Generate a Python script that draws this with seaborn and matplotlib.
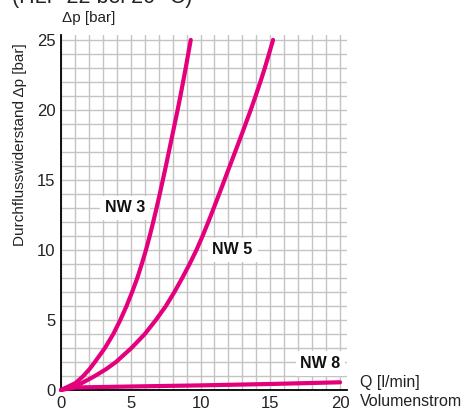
import matplotlib
matplotlib.use("Agg")
import matplotlib.pyplot as plt
import seaborn as sns
import pandas as pd

# --- data ---
nw3_dp = [0, 0.5, 1, 1.5, 2, 3, 4, 5, 6, 7, 8, 9, 10, 11, 12, 13, 14, 15, 16, 17, 18, 19, 20, 21, 22, 23, 24, 25]
nw3_q = [0, 1.05, 1.6, 2.05, 2.43, 3.15, 3.75, 4.25, 4.7, 5.1, 5.47, 5.79, 6.09, 6.36, 6.61, 6.85,
         7.08, 7.3, 7.52, 7.73, 7.94, 8.15, 8.36, 8.56, 8.75, 8.94, 9.12, 9.3]
nw5_dp = [0, 0.5, 1, 1.5, 2, 3, 4, 5, 6, 7, 8, 9, 10, 11, 12, 13, 14, 15, 16, 17, 18, 19, 20, 21, 22, 23, 24, 25]
nw5_q = [0, 1.5, 2.43, 3.25, 3.94, 5.05, 6.01, 6.8, 7.52, 8.13, 8.69, 9.22, 9.71, 10.15, 10.56, 10.95,
         11.34, 11.72, 12.1, 12.48, 12.86, 13.23, 13.6, 13.95, 14.29, 14.61, 14.91, 15.2]
nw8_q = [0, 1, 5, 10, 15, 20]
nw8_dp = [0, 0.18, 0.25, 0.33, 0.43, 0.55]
x_ticks = [0, 5, 10, 15, 20]
y_ticks = [0, 5, 10, 15, 20, 25]
labels = ["NW 3", "NW 5", "NW 8"]
label_pos = [(4.6, 13.0), (12.3, 10.0), (18.6, 1.9)]

sns.set_theme(style="white")
plt.rcParams['font.family'] = ['Liberation Sans', 'DejaVu Sans']

W, H = 468, 408
fig = plt.figure(figsize=(W / 100, H / 100), dpi=100)
ax = fig.add_axes([61 / W, 18 / H, 286 / W, 355 / H])

color = "#E4007C"
series = [(nw3_q, nw3_dp), (nw5_q, nw5_dp), (nw8_q, nw8_dp)]
for (q, dp) in series:
    df = pd.DataFrame({"Q": q, "dp": dp})
    sns.lineplot(data=df, x="Q", y="dp", ax=ax, color=color, linewidth=3.0,
                 sort=False, estimator=None, solid_capstyle="round",
                 solid_joinstyle="round", clip_on=False, zorder=5)

ax.set_xlim(0, 20.5)
ax.set_ylim(0, 25.35)
ax.set_xticks(range(0, 21), minor=True)
ax.set_yticks(range(0, 26), minor=True)
ax.set_xticks(x_ticks)
ax.set_yticks(y_ticks)
ax.grid(True, which="both", color="#c4c4c4", linewidth=1.0)
ax.set_axisbelow(True)
ax.tick_params(which="both", length=0, labelsize=12, colors="#222222", pad=4)
for s in ["top", "right"]:
    ax.spines[s].set_visible(False)
for s in ["left", "bottom"]:
    ax.spines[s].set_color("black")
    ax.spines[s].set_linewidth(1.3)
ax.set_xlabel("")
ax.set_ylabel("")

for lab, (x, y) in zip(labels, label_pos):
    ax.text(x, y, lab, fontsize=11.5, fontweight="bold", color="#111111",
            ha="center", va="center", zorder=6,
            bbox=dict(boxstyle="square,pad=0.3", fc="white", ec="none"))

fig.text(12 / W, 1 - 3 / H, "(HLP 22 bei 20 °C)", fontsize=15.5, color="#222222",
         ha="left", va="baseline")
fig.text(62 / W, 1 - 18 / H, "Δp [bar]", fontsize=11, color="#222222",
         ha="left", va="center")
fig.text(20 / W, 1 - 145 / H, "Durchflusswiderstand Δp [bar]", fontsize=11,
         color="#222222", rotation=90, ha="center", va="center")
fig.text(360 / W, 1 - 383 / H, "Q [l/min]", fontsize=11.5, color="#222222",
         ha="left", va="center")
fig.text(360 / W, 1 - 402 / H, "Volumenstrom", fontsize=11.5, color="#222222",
         ha="left", va="center")

fig.savefig("out.png", dpi=100)
